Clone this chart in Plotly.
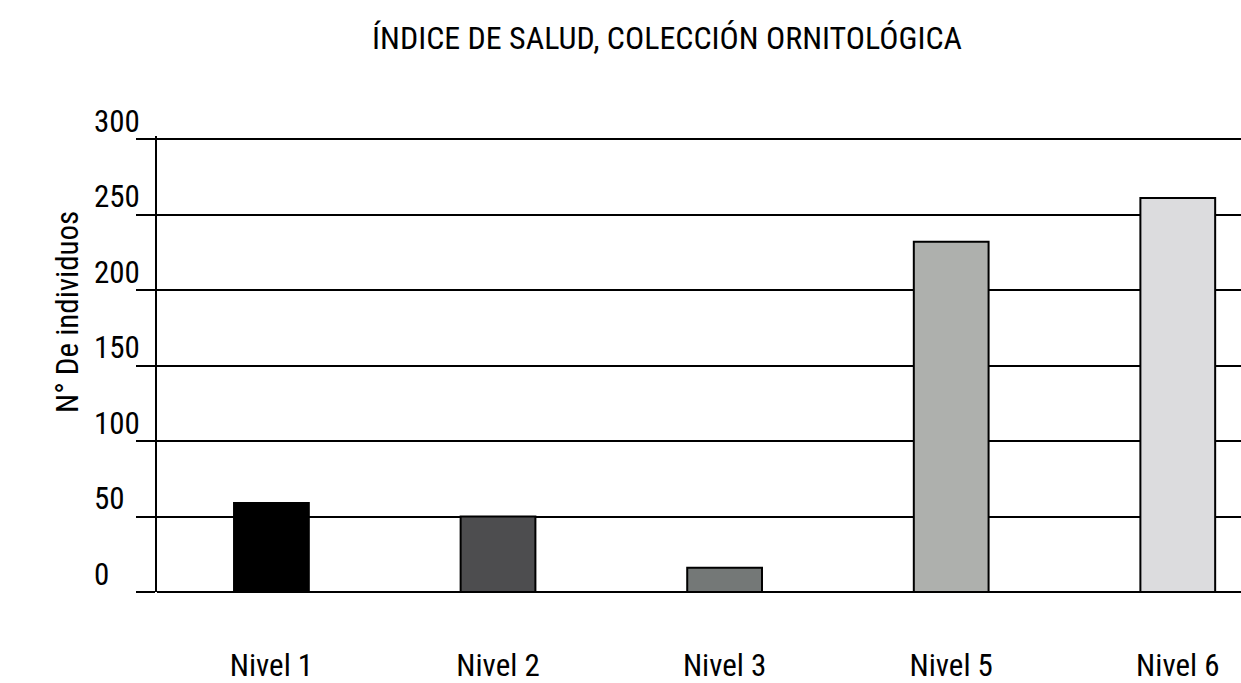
import plotly.graph_objects as go

categories = ["Nivel 1", "Nivel 2", "Nivel 3", "Nivel 5", "Nivel 6"]
values = [59, 50, 16, 232, 261]
colors = ["#000000", "#4d4d4f", "#747877", "#aeb0ad", "#dcdcde"]
y_ticks = [0, 50, 100, 150, 200, 250, 300]
title_text = "ÍNDICE DE SALUD, COLECCIÓN ORNITOLÓGICA"
y_title = "N° De individuos"

FONT = "Liberation Sans Narrow, Arial Narrow, Roboto Condensed, DejaVu Sans Condensed, sans-serif"
FS = 31

fig = go.Figure()
fig.add_trace(go.Bar(
    x=categories, y=values, width=0.33,
    marker=dict(color=colors, line=dict(color="#000000", width=2)),
    showlegend=False,
))

annotations = []
for t in y_ticks:
    annotations.append(dict(
        x=-0.06, xref="paper", y=t, yref="y", xanchor="left", yanchor="middle",
        yshift=18, text=str(t), showarrow=False,
        font=dict(family=FONT, size=FS, color="#000000"),
    ))
annotations.append(dict(
    x=-0.083, xref="paper", y=0.614, yref="paper", xanchor="center", yanchor="middle",
    text=y_title, textangle=-90, showarrow=False,
    font=dict(family=FONT, size=FS, color="#000000"),
))

fig.update_layout(
    width=1241, height=683,
    margin=dict(l=157, r=0, t=136, b=91),
    paper_bgcolor="white", plot_bgcolor="white",
    title=dict(text=title_text, x=0.5375, xref="container", xanchor="center",
               y=1 - 38 / 683, yanchor="middle",
               font=dict(family=FONT, size=32, color="#000000")),
    font=dict(family=FONT, size=FS, color="#000000"),
    xaxis=dict(
        type="category", range=[-0.505, 4.279],
        showgrid=False, showline=False, zeroline=False,
        ticks="", ticklabelstandoff=52,
        tickfont=dict(family=FONT, size=FS, color="#000000"),
    ),
    yaxis=dict(
        range=[0, 302], tickvals=y_ticks, showticklabels=False,
        showgrid=True, gridcolor="#000000", gridwidth=2,
        zeroline=True, zerolinecolor="#000000", zerolinewidth=2,
        showline=True, linecolor="#000000", linewidth=2,
        ticks="outside", ticklen=19, tickwidth=2, tickcolor="#000000",
    ),
    annotations=annotations,
    bargap=0.67,
)

fig.write_html(
    "out.html",
    config={"displayModeBar": False},
    post_script="document.body.style.margin='0';document.body.style.overflow='hidden';",
)
